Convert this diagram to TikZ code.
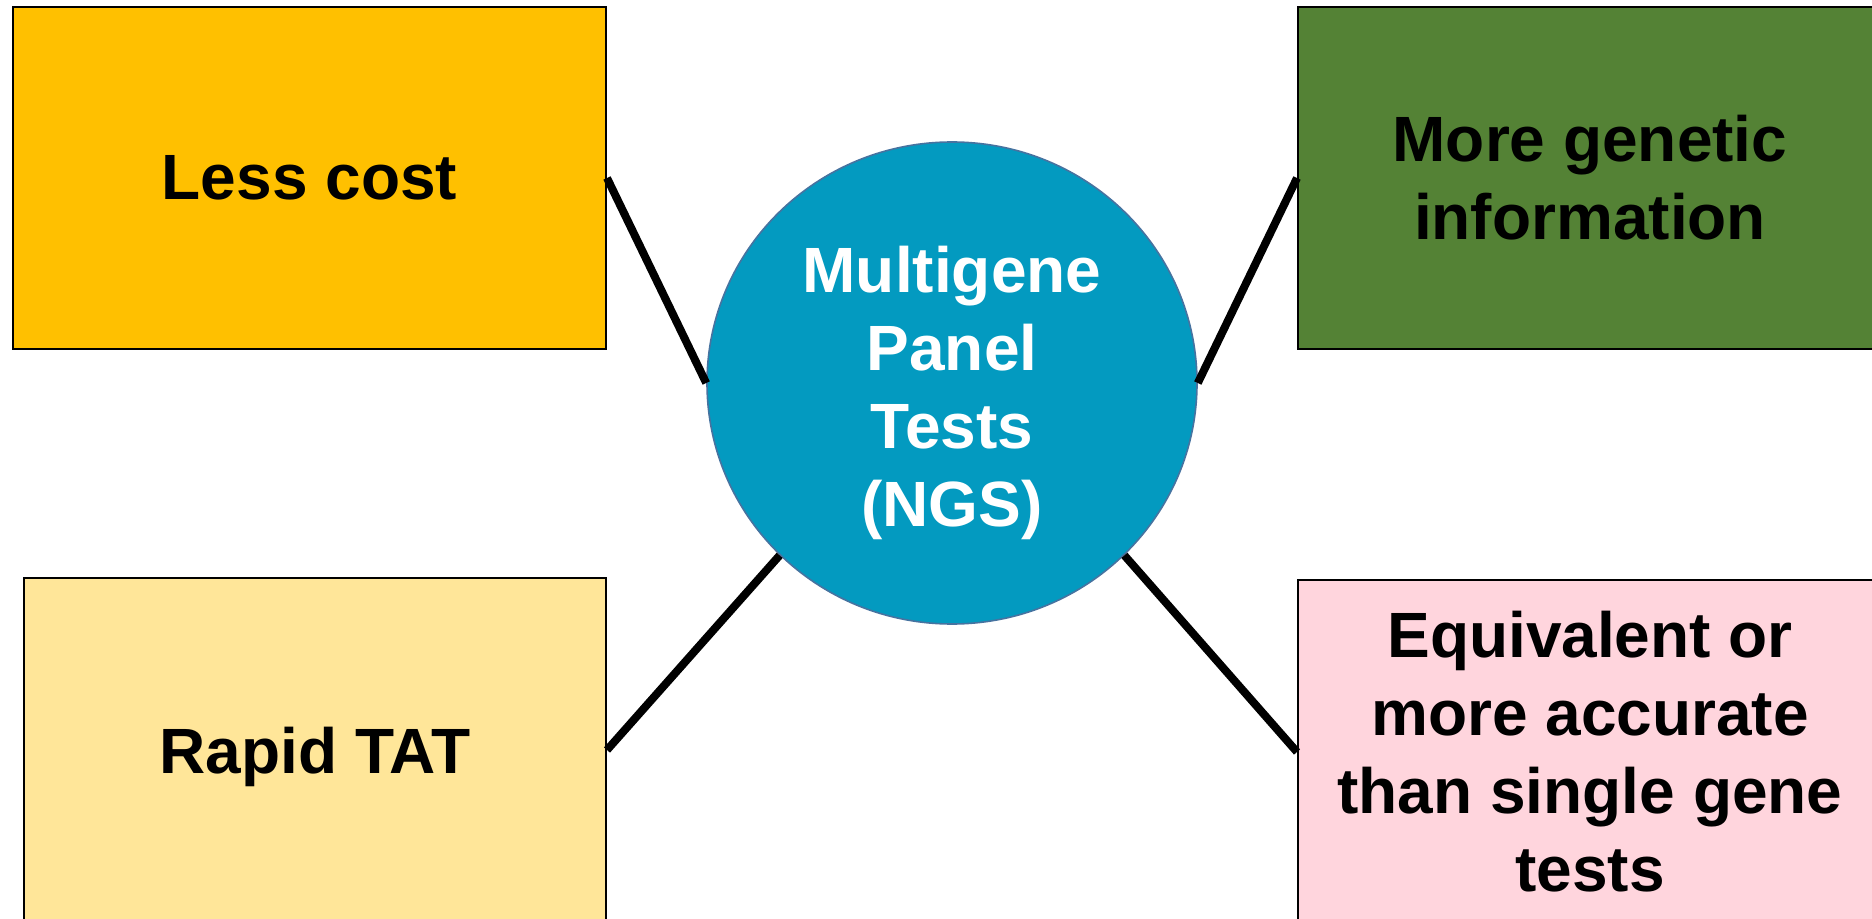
\documentclass[tikz,border=0pt]{standalone}
\usepackage{fontspec}
\setmainfont{Liberation Sans}
\usetikzlibrary{shapes.geometric}
\definecolor{cyellow}{RGB}{255,192,0}
\definecolor{cgreen}{RGB}{84,130,53}
\definecolor{clyellow}{RGB}{255,230,153}
\definecolor{cpink}{RGB}{255,213,221}
\definecolor{cblue}{RGB}{3,154,192}
\definecolor{cblueedge}{RGB}{70,115,160}
\tikzset{
  box/.style={draw=black, line width=1pt, rectangle, align=center, inner sep=0pt,
    font=\fontsize{32pt}{39pt}\selectfont\bfseries, text=black},
  hub/.style={ellipse, draw=cblueedge, line width=0.8pt, fill=cblue,
    inner sep=0pt, minimum width=245pt, minimum height=241pt},
  hubtext/.style={align=center, inner sep=0pt,
    font=\fontsize{32pt}{39pt}\selectfont\bfseries, text=white},
  link/.style={line width=4pt, black}
}
\begin{document}
\begin{tikzpicture}[x=0.5pt, y=-0.5pt]
\useasboundingbox (0,0) rectangle (1872,919);
\node[box, fill=cyellow, minimum width=296.5pt, minimum height=171pt] (tl) at (309.5,178) {Less cost};
\node[box, fill=cgreen, minimum width=292pt, minimum height=171pt] (tr) at (1590,178) {More genetic\\information};
\node[box, fill=clyellow, minimum width=291pt, minimum height=179pt] (bl) at (315,757) {Rapid TAT};
\node[box, fill=cpink, minimum width=292pt, minimum height=172pt] (br) at (1590,752) {Equivalent or\\more accurate\\than single gene\\tests};
\node[hub, label={[hubtext, yshift=-5pt]center:{Multigene\\Panel\\Tests\\(NGS)}}] (c) at (952,383) {};
\coordinate (ble) at ([yshift=3.5pt]bl.east);
\draw[link] (tl.east) -- (c.west);
\draw[link] (tr.west) -- (c.east);
\draw[link] (ble) -- (c.225);
\draw[link] (br.west) -- (c.-45);
\end{tikzpicture}
\end{document}
